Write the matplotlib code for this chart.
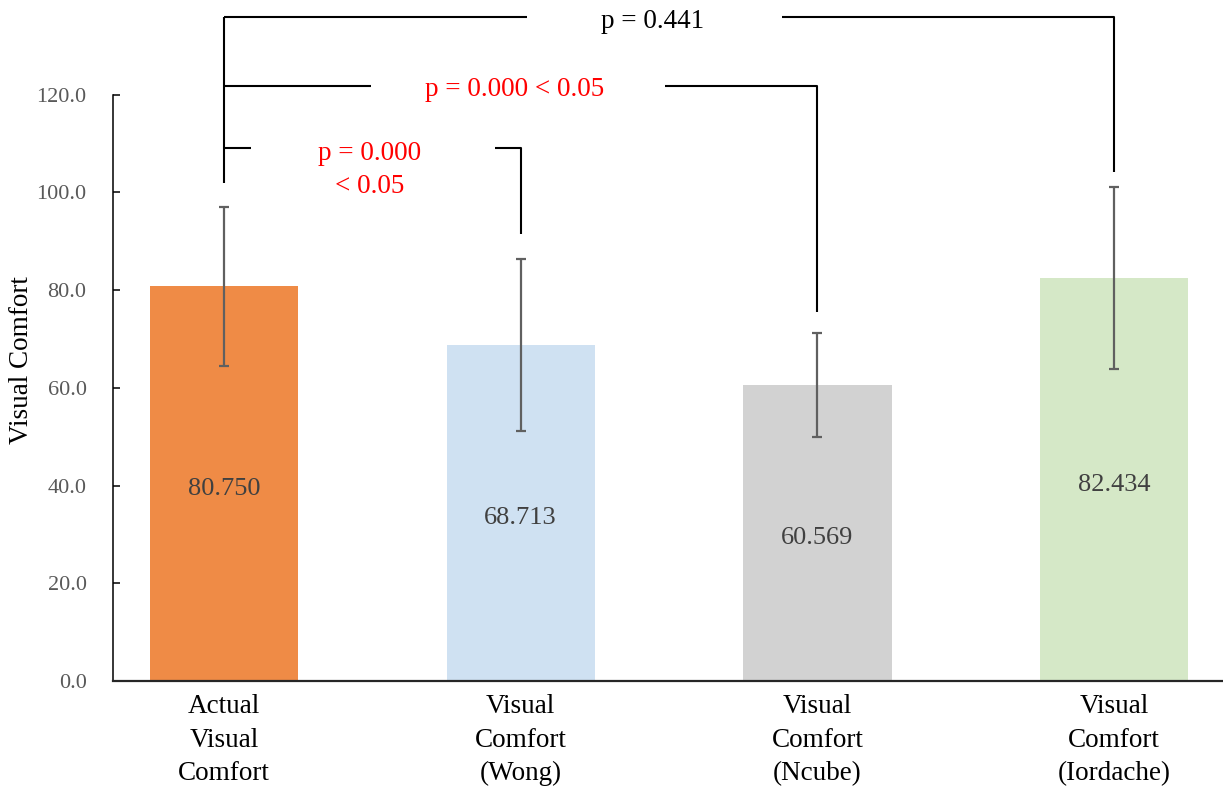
import matplotlib
matplotlib.use("Agg")
import matplotlib.pyplot as plt
import numpy as np

categories = ["Actual\nVisual\nComfort", "Visual\nComfort\n(Wong)", "Visual\nComfort\n(Ncube)", "Visual\nComfort\n(Iordache)"]
means = [80.750, 68.713, 60.569, 82.434]
errors = [16.3, 17.6, 10.6, 18.6]
value_labels = ["80.750", "68.713", "60.569", "82.434"]
colors = ["#EF8B46", "#CFE1F2", "#D2D2D2", "#D5E8C7"]
yticks = [0, 20, 40, 60, 80, 100, 120]

plt.rcParams['font.family'] = ['Liberation Serif', 'DejaVu Serif']

fig = plt.figure(figsize=(12.23, 7.89), dpi=100)
ax = fig.add_axes([113/1223, (789-681)/789, 1 - 113/1223, (681-94.7)/789])

x = np.arange(len(means))
ax.bar(x, means, width=0.5, color=colors, zorder=2)
ax.errorbar(x, means, yerr=errors, fmt='none', ecolor='#606060', elinewidth=1.6,
            capsize=3.5, capthick=1.6, zorder=3)

for xi, m, lab in zip(x, means, value_labels):
    ax.annotate(lab, (xi, m / 2), xytext=(0, -3.6), textcoords='offset points',
                ha='center', va='center', fontsize=19, color='#404040', zorder=4)

ax.set_xlim(-0.374, 3.367)
ax.set_ylim(0, 120)
ax.set_yticks(yticks)
ax.set_yticklabels([f"{v:.1f}" for v in yticks])
ax.set_xticks(x)
ax.set_xticklabels(categories, fontsize=19.5, linespacing=1.45)
ax.tick_params(axis='x', length=0, pad=9.5, colors='black')
ax.tick_params(axis='y', direction='in', length=5, width=1.1, pad=19, labelsize=16,
               labelcolor='#595959', color='black')

for s in ['top', 'right']:
    ax.spines[s].set_visible(False)
ax.spines['left'].set_linewidth(1.1)
ax.spines['left'].set_color('black')
ax.spines['bottom'].set_linewidth(1.6)
ax.spines['bottom'].set_color('#262626')

fig.text(22/1223, (789-360)/789, "Visual Comfort", rotation=90, ha='center', va='center',
         fontsize=19.5, color='black')

lw = 1.5
kw = dict(color='black', lw=lw, clip_on=False, solid_capstyle='butt', zorder=5)
# Top bracket: bar 0 vs bar 3, p = 0.441
ax.plot([0, 0], [101.9, 136.0], **kw)
ax.plot([0, 1.02], [136.0, 136.0], **kw)
ax.plot([1.88, 3.0, 3.0], [136.0, 136.0, 104.2], **kw)
ax.text(1.443, 135.0, "p = 0.441", ha='center', va='center', fontsize=19.5, color='black')
# Middle bracket: bar 0 vs bar 2
ax.plot([0, 0.495], [121.8, 121.8], **kw)
ax.plot([1.486, 2.0, 2.0], [121.8, 121.8, 75.5], **kw)
ax.text(0.98, 121.0, "p = 0.000 < 0.05", ha='center', va='center', fontsize=19.5, color='red')
# Lower bracket: bar 0 vs bar 1
ax.plot([0, 0.09], [109.1, 109.1], **kw)
ax.plot([0.913, 1.0, 1.0], [109.1, 109.1, 91.5], **kw)
ax.text(0.49, 104.6, "p = 0.000\n< 0.05", ha='center', va='center', fontsize=19.5,
        color='red', linespacing=1.42)

fig.savefig("out.png", dpi=100)
